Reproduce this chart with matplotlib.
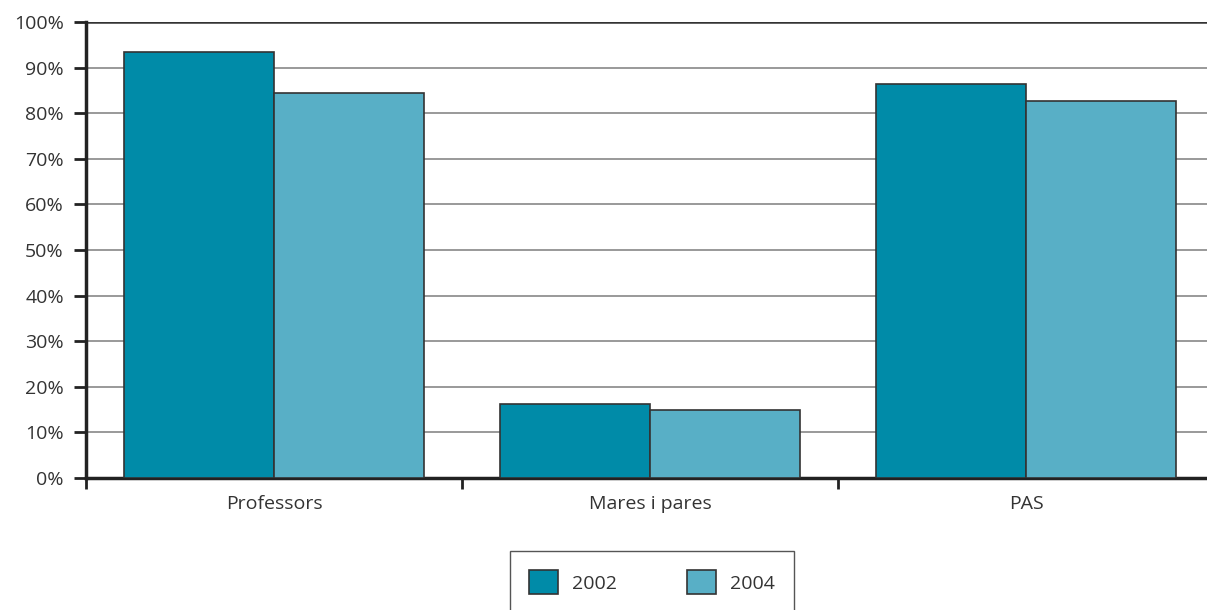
import numpy as np
import matplotlib.pyplot as plt
from matplotlib.ticker import PercentFormatter

plt.rcParams['font.family'] = ['Open Sans', 'DejaVu Sans']

categories = ["Professors", "Mares i pares", "PAS"]
years = ["2002", "2004"]
vals_2002 = [93.4, 16.3, 86.4]
vals_2004 = [84.5, 14.9, 82.7]
colors = ["#008ba8", "#58afc6"]

text_col = "#333333"
fs = 14

fig = plt.figure(figsize=(12.07, 6.10), dpi=100)
ax = fig.add_axes([86 / 1207, 1 - 478 / 610, 1128 / 1207, 456 / 610])

x = np.arange(len(categories))
w = 0.4
ax.bar(x - w / 2, vals_2002, w, color=colors[0], edgecolor="#333333", linewidth=1.2, label=years[0], zorder=3)
ax.bar(x + w / 2, vals_2004, w, color=colors[1], edgecolor="#333333", linewidth=1.2, label=years[1], zorder=3)

ax.set_xlim(-0.5, 2.5)
ax.set_ylim(0, 100)
ax.set_yticks(np.arange(0, 101, 10))
ax.yaxis.set_major_formatter(PercentFormatter(decimals=0))
ax.set_xticks(x)
ax.set_xticklabels(categories)
ax.set_xticks([-0.5, 0.5, 1.5, 2.5], minor=True)
ax.tick_params(axis="x", which="major", length=0, pad=12, labelsize=fs, labelcolor=text_col)
ax.tick_params(axis="x", which="minor", length=8, width=2, color="#222222")
ax.tick_params(axis="y", length=9, width=2, color="#222222", pad=7, labelsize=fs, labelcolor=text_col)

ax.yaxis.grid(True, color="#888888", linewidth=1.2, zorder=0)
for s in ["top", "right"]:
    ax.spines[s].set_visible(False)
for s in ["left", "bottom"]:
    ax.spines[s].set_linewidth(2.5)
    ax.spines[s].set_color("#222222")
ax.axhline(100, color="#333333", linewidth=1.8, zorder=2)

fig.legend(loc="upper center", bbox_to_anchor=(652 / 1207, 1 - 551 / 610), ncol=2,
           fontsize=fs, frameon=True, fancybox=False, edgecolor="#555555",
           handlelength=1.5, handleheight=1.5, handletextpad=0.7, columnspacing=3.6,
           borderpad=1.0, borderaxespad=0, labelcolor=text_col, framealpha=1)

fig.savefig("out.png", dpi=100)
